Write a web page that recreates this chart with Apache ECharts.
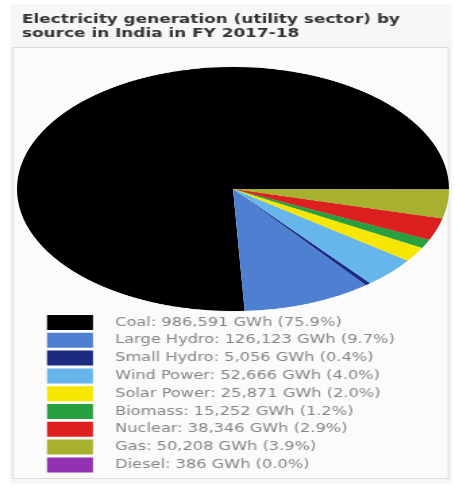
<!DOCTYPE html>
<html>
<head>
<meta charset="utf-8">
<script src="https://cdn.jsdelivr.net/npm/echarts@6/dist/echarts.min.js"></script>
<style>
html,body{margin:0;padding:0;background:#fff;}
#wrap{position:relative;width:455px;height:486px;overflow:hidden;}
#main{position:absolute;left:0;top:0;width:337px;height:486px;transform:scaleX(1.35);transform-origin:0 0;}
#pie{position:absolute;left:17px;top:-27px;width:432px;height:432px;transform:scaleY(0.565);transform-origin:50% 50%;}
</style>
</head>
<body>
<div id="wrap"><div id="main"></div><div id="pie"></div></div>
<script>
const titleText = 'Electricity generation (utility sector) by\nsource in India in FY 2017-18';
const categories = ['Coal', 'Large Hydro', 'Small Hydro', 'Wind Power', 'Solar Power', 'Biomass', 'Nuclear', 'Gas', 'Diesel'];
const valuesGWh = [986591, 126123, 5056, 52666, 25871, 15252, 38346, 50208, 386];
const colors = ['#000000', '#4f7fd0', '#1c2a82', '#66b6ec', '#f6e600', '#28a040', '#dc2020', '#a8b030', '#9232b0'];

const total = valuesGWh.reduce((a, b) => a + b, 0);
const pieData = categories.map((c, i) => ({ name: c, value: valuesGWh[i], itemStyle: { color: colors[i] } }));

// main layer is drawn narrow and stretched horizontally by 1.35 (as in the reference)
const SX = 1.35;
const main = echarts.init(document.getElementById('main'), null, { renderer: 'canvas' });
main.setOption({
  animation: false,
  color: colors,
  title: {
    text: titleText,
    left: 22 / SX, top: 13,
    padding: 0,
    textStyle: { fontFamily: 'DejaVu Sans', fontSize: 12.5, fontWeight: 'bold', color: '#333', lineHeight: 14 }
  },
  graphic: [{
    type: 'rect', silent: true, z: -20,
    shape: { x: 10 / SX, y: 4, width: 442 / SX, height: 480 },
    style: { fill: '#f7f7f7' }
  }, {
    type: 'rect', silent: true, z: -10,
    shape: { x: 12.5 / SX, y: 47.5, width: 436 / SX, height: 431 },
    style: { fill: '#fbfbfb', stroke: '#dcdcdc', lineWidth: 1 }
  }],
  legend: {
    orient: 'vertical',
    left: 47 / SX, top: 315,
    padding: 0,
    icon: 'rect',
    itemWidth: 46 / SX, itemHeight: 15, itemGap: 2.8,
    selectedMode: false,
    textStyle: { fontFamily: 'DejaVu Sans', fontSize: 12, color: '#858585', padding: [0, 0, 0, 11.4] },
    formatter: function (name) {
      const i = categories.indexOf(name);
      const v = valuesGWh[i];
      return name + ': ' + v.toLocaleString('en-US') + ' GWh (' + (v / total * 100).toFixed(1) + '%)';
    },
    data: categories
  },
  series: [{
    type: 'pie', radius: [0, 0], center: [-100, -100], silent: true,
    label: { show: false }, labelLine: { show: false },
    data: pieData
  }]
});

const pie = echarts.init(document.getElementById('pie'), null, { renderer: 'canvas' });
pie.setOption({
  animation: false,
  series: [{
    type: 'pie',
    radius: ['0%', '100%'],
    center: ['50%', '50%'],
    startAngle: 0,
    clockwise: false,
    minAngle: 0,
    avoidLabelOverlap: false,
    label: { show: false }, labelLine: { show: false },
    emphasis: { scale: false },
    itemStyle: { borderWidth: 0 },
    data: pieData
  }]
});
</script>
</body>
</html>
